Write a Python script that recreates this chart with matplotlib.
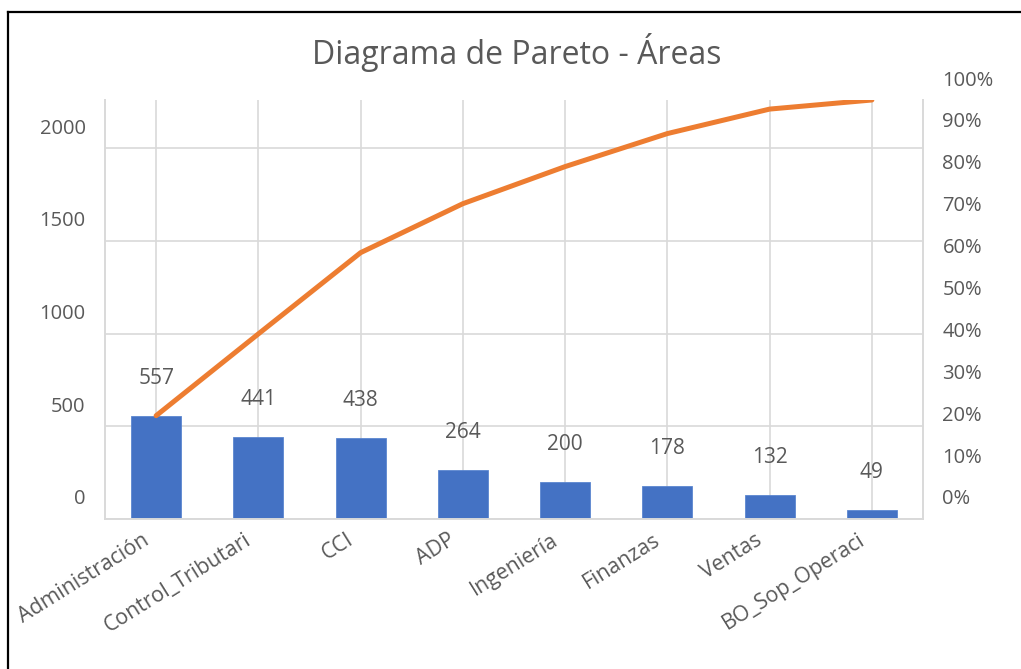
import numpy as np
import matplotlib
matplotlib.use('Agg')
import matplotlib.pyplot as plt
from matplotlib.transforms import ScaledTranslation
from matplotlib.lines import Line2D

plt.rcParams['font.family'] = ['Open Sans', 'DejaVu Sans']

# data
areas = ['Administración', 'Control_Tributari', 'CCI', 'ADP', 'Ingeniería',
         'Finanzas', 'Ventas', 'BO_Sop_Operaci']
counts = [557, 441, 438, 264, 200, 178, 132, 49]
left_ticks = [0, 500, 1000, 1500, 2000]
right_ticks = [0.0, 0.1, 0.2, 0.3, 0.4, 0.5, 0.6, 0.7, 0.8, 0.9, 1.0]

total = sum(counts)
cum_pct = np.cumsum(counts) / total

txt_col = '#595959'
grid_col = '#D9D9D9'
bar_col = '#4472C4'
line_col = '#ED7D31'

fig = plt.figure(figsize=(10.21, 6.69), dpi=100)
ax = fig.add_axes([105/1021, 1 - 519/669, (923 - 105)/1021, (519 - 100)/669])
x = np.arange(len(areas))

ax.bar(x, counts, width=0.49, color=bar_col, edgecolor='#5B86D0', linewidth=0.6, zorder=2)
for xi, c in zip(x, counts):
    ax.annotate(str(c), (xi, c), xytext=(0, 27), textcoords='offset points',
                ha='center', va='center', fontsize=15, color=txt_col)

ax.set_xlim(-0.5, len(areas) - 0.5)
ax.set_ylim(0, total)
ax.set_xticks(x)
ax.set_xticklabels(areas, rotation=32, ha='right', va='center',
                   rotation_mode='anchor', fontsize=15.3, color=txt_col)
ax.set_yticks(left_ticks)
ax.set_yticklabels([str(t) for t in left_ticks], fontsize=14.5, color=txt_col)
ax.tick_params(axis='both', length=0)
ax.tick_params(axis='y', pad=14)
ax.tick_params(axis='x', pad=14)
ax.grid(True, color=grid_col, linewidth=1.2, zorder=0)
ax.set_axisbelow(True)
for s in ['left', 'right', 'bottom']:
    ax.spines[s].set_color(grid_col)
    ax.spines[s].set_linewidth(1.4)
ax.spines['top'].set_visible(False)

ax2 = ax.twinx()
ax2.plot(x, cum_pct, color=line_col, linewidth=3.6, solid_capstyle='round',
         solid_joinstyle='round', zorder=3)
ax2.set_ylim(0, 1)
ax2.set_yticks(right_ticks)
ax2.set_yticklabels(['%d%%' % round(t * 100) for t in right_ticks],
                    fontsize=14.5, color=txt_col)
ax2.tick_params(axis='y', length=0, pad=14)
for s in ax2.spines.values():
    s.set_visible(False)

# tick labels sit a bit above their gridlines in the original
up = ScaledTranslation(0, 0.22, fig.dpi_scale_trans)
for lab in ax.get_yticklabels() + ax2.get_yticklabels():
    lab.set_transform(lab.get_transform() + up)
shift = ScaledTranslation(-0.09, 0, fig.dpi_scale_trans)
for lab in ax.get_xticklabels():
    lab.set_transform(lab.get_transform() + shift)

fig.text(517/1021, 1 - 52/669, 'Diagrama de Pareto - Áreas', ha='center', va='center',
         fontsize=23, color=txt_col)

# black frame on left and top edge of the screenshot
fig.add_artist(Line2D([7.5/1021, 7.5/1021], [0, 1 - 12/669], transform=fig.transFigure,
                      color='black', linewidth=1.6))
fig.add_artist(Line2D([7.5/1021, 1], [1 - 12/669, 1 - 12/669], transform=fig.transFigure,
                      color='black', linewidth=1.6))

fig.savefig('out.png', dpi=100)
